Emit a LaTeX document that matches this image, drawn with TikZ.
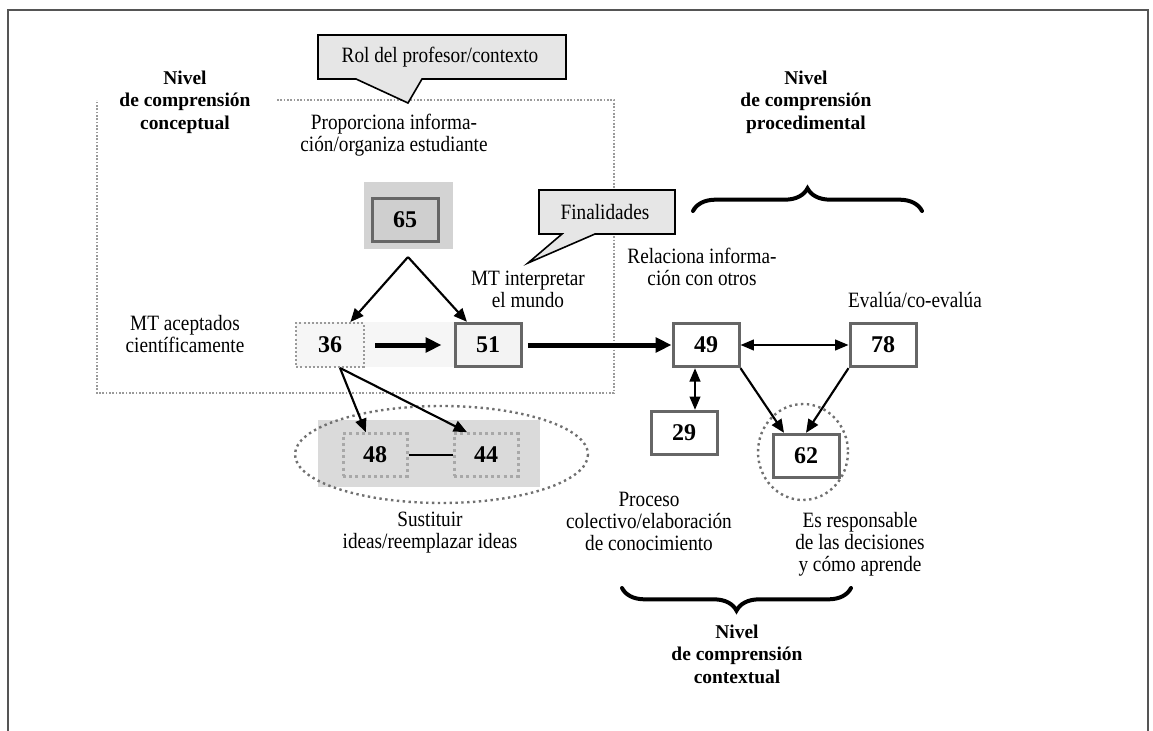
\documentclass[tikz,border=0pt]{standalone}
\usepackage{fontspec}
\setmainfont{Liberation Serif}[FakeStretch=0.88]
\newfontfamily\plainserif{Liberation Serif}
\usetikzlibrary{arrows.meta,calc,decorations.pathreplacing}
\definecolor{framegray}{HTML}{555555}
\definecolor{boxgray}{HTML}{666666}
\definecolor{dotgray}{HTML}{9A9A9A}
\definecolor{lightdot}{HTML}{A8A8A8}
\definecolor{callfill}{HTML}{E6E6E6}
\definecolor{bgdark}{HTML}{D3D3D3}
\definecolor{box65}{HTML}{CFCFCF}
\definecolor{bgmid}{HTML}{DADADA}
\definecolor{bglight}{HTML}{F6F6F6}
\definecolor{box51}{HTML}{F3F3F3}
\definecolor{ringgray}{HTML}{707070}
\begin{document}
\begin{tikzpicture}[x=0.75pt,y=-0.75pt,
  txt/.style={font=\fontsize{16.4pt}{16.5pt}\selectfont, align=center, inner sep=0pt},
  lvl/.style={font=\plainserif\fontsize{14.6pt}{16.8pt}\selectfont\bfseries, align=center, inner sep=0pt},
  numbox/.style={draw=boxgray, line width=2.25pt, minimum width=49.5pt, minimum height=32.5pt, inner sep=0pt, font=\plainserif\fontsize{18pt}{20pt}\selectfont\bfseries},
  dotbox36/.style={draw=dotgray, line width=1.5pt, dash pattern=on 1.5pt off 1.6pt, minimum width=50.5pt, minimum height=33pt, inner sep=0pt, font=\plainserif\fontsize{18pt}{20pt}\selectfont\bfseries},
  dotbox/.style={draw=lightdot, line width=2.25pt, dash pattern=on 2.25pt off 2.4pt, minimum width=48pt, minimum height=32pt, inner sep=0pt, font=\plainserif\fontsize{18pt}{20pt}\selectfont\bfseries},
  arr/.style={line width=1.6pt, -{Triangle[length=10pt,width=8.5pt]}},
  darr/.style={line width=1.5pt, {Triangle[length=10pt,width=8pt]}-{Triangle[length=10pt,width=8pt]}},
  bigarr/.style={line width=3.75pt, -{Triangle[length=12pt,width=11pt]}},
  callout/.style={draw=black, fill=callfill, line width=1.2pt, line join=miter},
  ring/.style={draw=ringgray, line width=1.8pt, dash pattern=on 1.8pt off 2.6pt},
  zone/.style={draw=dotgray, line width=1.2pt, dash pattern=on 1.2pt off 1.3pt},
  bracestyle/.style={line width=3pt, line cap=round, decorate, decoration={brace, amplitude=17pt}}
]
\useasboundingbox (0,0) rectangle (1153,731);
% outer frame
\draw[framegray, line width=1.5pt] (8,731) -- (8,10) -- (1148,10) -- (1148,731);

% dotted zone
\draw[zone] (277,100) -- (614,100) -- (614,393) -- (97,393) -- (97,100);

% backgrounds
\fill[bgdark] (364,182) rectangle (453,249);
\fill[bglight] (296,322) rectangle (454,367);
\fill[bgmid] (318,420) rectangle (540,487);

% callouts
\draw[callout] (318,35) -- (566,35) -- (566,79) -- (422,79) -- (408,103) -- (356,79) -- (318,79) -- cycle;
\node[txt] (rol) at (440,57) {Rol del profesor/contexto};
\draw[callout] (539,190) -- (675,190) -- (675,234) -- (595,234) -- (528,263) -- (562,234) -- (539,234) -- cycle;
\node[txt] (fin) at (605,212) {Finalidades};

% level labels
\node[lvl] (lvconc) at (185,102) {Nivel\\de comprensión\\conceptual};
\node[lvl] (lvproc) at (806,102) {Nivel\\de comprensión\\procedimental};
\node[lvl] (lvcont) at (737,654) {Nivel\\de comprensión\\contextual};

% text labels
\node[txt] (tprop) at (394,135) {Proporciona informa-\\ción/organiza estudiante};
\node[txt] (tmtint) at (528,289) {MT interpretar\\el mundo};
\node[txt] (trel) at (702,267) {Relaciona informa-\\ción con otros};
\node[txt] (teval) at (915,300) {Evalúa/co-evalúa};
\node[txt] (tmtacep) at (185,334) {MT aceptados\\científicamente};
\node[txt] (tsust) at (430,533) {Sustituir\\ideas/reemplazar ideas};
\node[txt] (tproc) at (649,521) {Proceso\\colectivo/elaboración\\de conocimiento};
\node[txt] (tresp) at (860,544) {Es responsable\\de las decisiones\\y cómo aprende};

% boxes
\node[numbox, fill=box65] (n65) at (405,220) {65};
\node[dotbox36] (n36) at (330,345) {36};
\node[numbox, fill=box51] (n51) at (488,345) {51};
\node[numbox, fill=white] (n49) at (706,345) {49};
\node[numbox, fill=white] (n78) at (883,345) {78};
\node[numbox, fill=white] (n29) at (684,433) {29};
\node[numbox, fill=white] (n62) at (806,456) {62};
\node[dotbox] (n48) at (375,455) {48};
\node[dotbox] (n44) at (486,455) {44};

% rings
\draw[ring] (441.5,454.5) ellipse [x radius=146.5, y radius=48.5];
\draw[ring] (803,452) ellipse [x radius=45, y radius=48];

% connectors
\coordinate (apex) at (408,257);
\draw[arr] (apex) -- (n36);
\draw[arr] (apex) -- (n51);
\draw[bigarr, shorten <=8pt, shorten >=9pt] (n36) -- (n51);
\draw[bigarr, shorten <=4pt] (n51) -- (n49);
\draw[darr] (n49) -- (n78);
\draw[darr] ($(n49.south)+(-11,0)$) -- ($(n29.north)+(11,0)$);
\draw[arr] (n49.south east) -- ($(n62.north)+(-22,0)$);
\draw[arr] (n78.south west) -- (n62.north);
\draw[arr] ($(n36.south)+(10,0)$) -- (n48);
\draw[arr] ($(n36.south)+(10,0)$) -- ($(n44.north)+(-19,0)$);
\draw[line width=1.2pt] (n48) -- (n44);

% braces
\draw[bracestyle] (693,211) -- (922,211);
\draw[bracestyle] (851,588) -- (622,588);
\end{tikzpicture}
\end{document}
